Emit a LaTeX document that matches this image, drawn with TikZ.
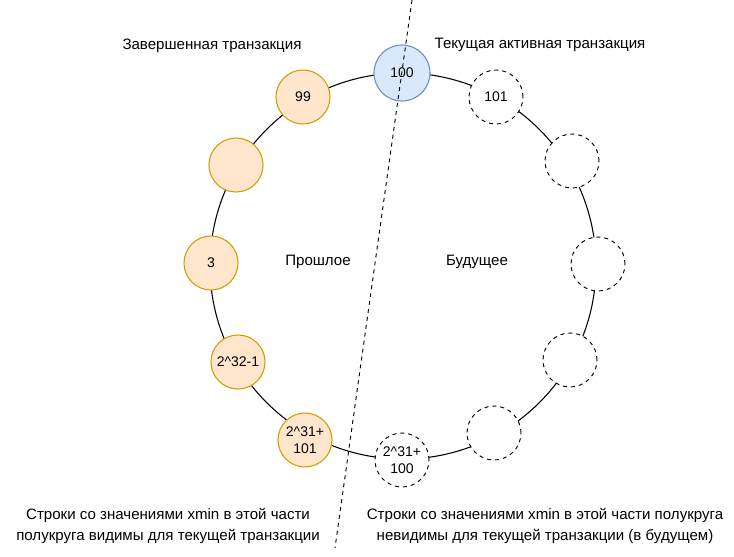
\documentclass[tikz,border=0pt]{standalone}
\usepackage{fontspec}
\setmainfont{Liberation Sans}
\begin{document}
\begin{tikzpicture}[x=0.75pt,y=-0.75pt,
  past/.style={circle,draw=orange!80!black,fill=orange!20,line width=0.8pt,minimum size=40.5pt,inner sep=0pt,font=\fontsize{10.5}{12.5}\selectfont,align=center},
  cur/.style={circle,draw=blue!40!gray,fill=blue!15,line width=0.8pt,minimum size=42pt,inner sep=0pt,font=\fontsize{10.5}{12.5}\selectfont},
  fut/.style={circle,draw,dashed,fill=white,line width=0.7pt,minimum size=40.5pt,inner sep=0pt,font=\fontsize{10.5}{12.5}\selectfont,align=center},
  lbl/.style={font=\fontsize{11.3}{16}\selectfont,align=center}]
\useasboundingbox (0,0) rectangle (734,556);
\definecolor{pastd}{HTML}{D79B00}\definecolor{pastf}{HTML}{FFE6CC}
\definecolor{curd}{HTML}{6C8EBF}\definecolor{curf}{HTML}{DAE8FC}
\tikzset{past/.append style={draw=pastd,fill=pastf},cur/.append style={draw=curd,fill=curf}}
\draw[line width=0.8pt] (403,266) circle[radius=193];
\node[cur] (n100) at (402,73) {100};
\node[past] (n99) at (303,97) {99};
\node[past] (ne) at (236,165) {};
\node[past] (n3) at (211,263) {3};
\node[past] (n232) at (238,362) {2\textasciicircum 32-1};
\node[past] (n231) at (305,440) {2\textasciicircum 31+\\101};
\node[fut] (n101) at (496,97) {101};
\node[fut] (f1) at (572,161) {};
\node[fut] (f2) at (598,264) {};
\node[fut] (f3) at (570,360) {};
\node[fut] (f4) at (494,433) {};
\node[fut] (nb) at (402,460) {2\textasciicircum 31+\\100};
\coordinate (dt) at (412,0);
\coordinate (db) at (335,548);
\draw[dashed,line width=0.7pt] (dt) -- (db);
\node[lbl] (t1) at (212,46) {Завершенная транзакция};
\node[lbl] (t2) at (540,45) {Текущая активная транзакция};
\node[lbl] (t3) at (318,262) {Прошлое};
\node[lbl] (t4) at (477,262) {Будущее};
\node[lbl] (t5) at (168,526) {Строки со значениями xmin в этой части\\полукруга видимы для текущей транзакции};
\node[lbl] (t6) at (545,526) {Строки со значениями xmin в этой части полукруга\\невидимы для текущей транзакции (в будущем)};
\end{tikzpicture}
\end{document}
